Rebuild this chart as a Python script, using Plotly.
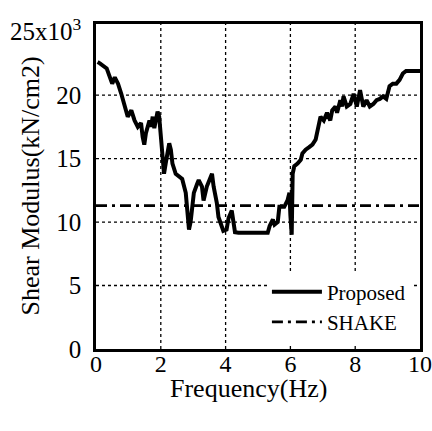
import plotly.graph_objects as go

freq = [0.05, 0.12, 0.33, 0.43, 0.50, 0.58, 0.68, 0.78, 0.83, 0.94, 0.98, 1.09, 1.19, 1.29, 1.39, 1.44,
        1.49, 1.54, 1.65, 1.70, 1.75, 1.80, 1.90, 1.95, 2.00, 2.05, 2.10, 2.15, 2.26, 2.31, 2.36, 2.46,
        2.56, 2.66, 2.77, 2.81, 2.87, 2.92, 3.02, 3.12, 3.17, 3.27, 3.32, 3.42, 3.53, 3.58, 3.63, 3.73,
        3.78, 3.88, 3.93, 4.03, 4.09, 4.19, 4.24, 4.29, 4.40, 5.30, 5.36, 5.46, 5.51, 5.61, 5.66, 5.81,
        5.91, 5.97, 6.00, 6.04, 6.07, 6.12, 6.22, 6.32, 6.37, 6.47, 6.58, 6.68, 6.78, 6.83, 6.88, 6.93,
        7.03, 7.13, 7.23, 7.29, 7.39, 7.44, 7.54, 7.59, 7.64, 7.74, 7.85, 7.95, 8.05, 8.15, 8.25, 8.35,
        8.45, 8.56, 8.66, 8.76, 8.86, 8.96, 9.06, 9.16, 9.27, 9.37, 9.47, 9.57, 10.0]
proposed = [22.6, 22.5, 22.1, 21.4, 20.9, 21.4, 20.9, 20.1, 19.6, 18.8, 18.3, 18.8, 18.0, 17.5, 17.8, 16.7,
            16.1, 17.0, 18.0, 17.5, 18.3, 17.4, 18.7, 18.3, 16.7, 15.4, 13.8, 14.6, 16.2, 15.7, 14.6, 13.8,
            13.6, 13.4, 12.3, 10.7, 9.4, 10.0, 12.3, 13.0, 13.3, 12.8, 11.7, 12.8, 13.6, 13.8, 12.8, 11.5,
            10.4, 9.6, 9.3, 9.4, 10.3, 10.9, 10.0, 9.2, 9.15, 9.15, 9.7, 10.2, 9.8, 10.0, 11.2, 11.2,
            11.7, 12.3, 10.5, 9.0, 13.8, 14.4, 14.6, 14.9, 15.4, 15.7, 15.9, 16.1, 16.5, 17.0, 17.5, 18.3,
            18.0, 18.6, 18.0, 18.8, 19.1, 18.6, 19.6, 19.1, 19.9, 19.1, 19.3, 20.1, 19.1, 20.4, 19.1, 19.6,
            19.1, 19.3, 19.6, 19.7, 19.9, 19.7, 20.7, 20.9, 20.9, 21.2, 21.7, 21.9, 21.9]
shake_x = [0.0, 10.0]
shake_y = [11.3, 11.3]

x_ticks = [0, 2, 4, 6, 8, 10]
y_ticks = [0, 5, 10, 15, 20, 25]
y_ticktext = ["0", "5", "10", "15", "20", "25x10<sup>3</sup>"]
x_grid = [2, 4, 6, 8]
y_grid = [5, 10, 15, 20]
x_title = "Frequency(Hz)"
y_title = "Shear Modulus(kN/cm2)"

FONT = "Liberation Serif, Times New Roman, serif"

fig = go.Figure()
fig.add_trace(go.Scatter(x=freq, y=proposed, mode="lines", name="Proposed",
                         line=dict(color="black", width=4)))
fig.add_trace(go.Scatter(x=shake_x, y=shake_y, mode="lines", name="SHAKE",
                         line=dict(color="black", width=2.8, dash="11px,5px,3px,5px")))

for gx in x_grid:
    fig.add_shape(type="line", xref="x", yref="paper", x0=gx, x1=gx, y0=0, y1=1,
                  line=dict(color="black", width=1.3, dash="dot"), layer="below")
for gy in y_grid:
    fig.add_shape(type="line", xref="paper", yref="y", x0=0, x1=1, y0=gy, y1=gy,
                  line=dict(color="black", width=1.3, dash="dot"), layer="below")

fig.add_annotation(text=x_title, xref="paper", yref="paper", x=0.47, y=0,
                   xanchor="center", yanchor="top", yshift=-23, showarrow=False,
                   font=dict(size=26, family=FONT, color="black"))
fig.add_annotation(text=y_title, xref="paper", yref="paper", x=0, y=0.5, textangle=-90,
                   xanchor="center", yanchor="middle", xshift=-66, showarrow=False,
                   font=dict(size=26, family=FONT, color="black"))

fig.update_layout(
    width=432, height=431,
    margin=dict(l=96, r=12, t=24, b=82, autoexpand=False),
    paper_bgcolor="white", plot_bgcolor="white",
    font=dict(family=FONT, size=25, color="black"),
    showlegend=True,
    legend=dict(x=0.972, y=0.02, xanchor="right", yanchor="bottom",
                bgcolor="white", borderwidth=0, font=dict(size=21, family=FONT),
                itemwidth=50, tracegroupgap=0),
    xaxis=dict(range=[0, 10], tickvals=x_ticks, showgrid=False, zeroline=False,
               showline=True, mirror=True, linecolor="black", linewidth=2.5,
               ticks="", ticklabelstandoff=-9, automargin=False,
               tickfont=dict(size=24, family=FONT)),
    yaxis=dict(range=[0, 25.6], tickvals=y_ticks, ticktext=y_ticktext, showgrid=False,
               zeroline=False, showline=True, mirror=True, linecolor="black", linewidth=2.5,
               ticks="", ticklabelstandoff=7, automargin=False),
)

fig.write_html("out.html")
